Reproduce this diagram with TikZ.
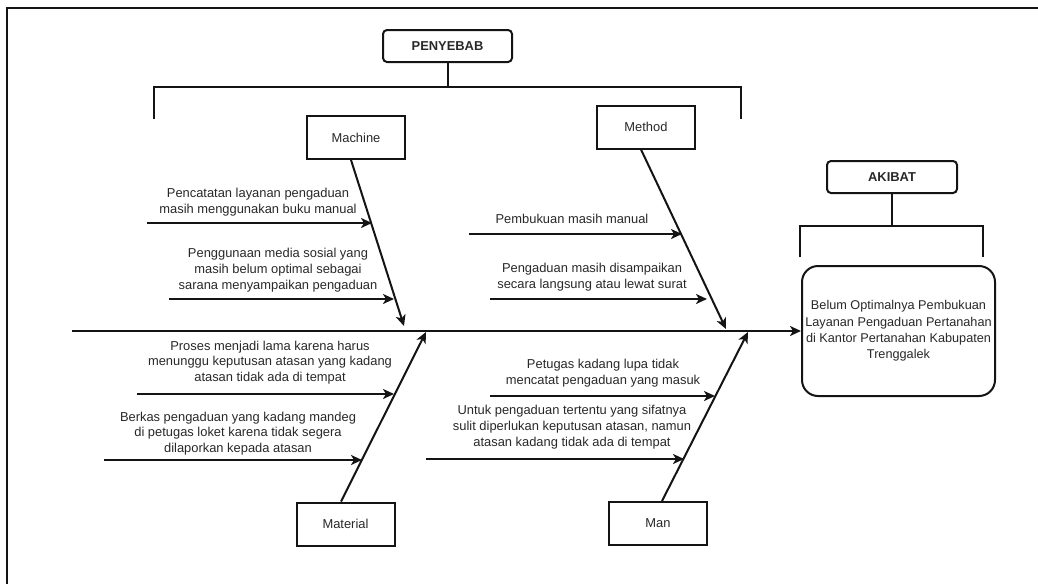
\documentclass[tikz,border=0pt]{standalone}
\usepackage{fontspec}
\setmainfont{Liberation Sans}
\usetikzlibrary{arrows.meta}
\definecolor{ink}{RGB}{20,20,20}
\definecolor{txt}{RGB}{40,40,40}
\begin{document}
\begin{tikzpicture}[x=1pt,y=-1pt,
  bar/.style={draw=ink, line width=2pt},
  bone/.style={draw=ink, line width=2pt, -{Stealth[length=11pt,width=10pt,inset=3pt]}},
  catbox/.style={draw=ink, line width=2pt, minimum width=98pt, minimum height=43pt, inner sep=0pt, font=\fontsize{12.9}{15}\selectfont, text=txt},
  headbox/.style={draw=ink, line width=2pt, rounded corners=4pt, minimum width=129pt, minimum height=32pt, inner sep=0pt, font=\bfseries\fontsize{12.9}{15}\selectfont, text=txt},
  lbl/.style={align=center, inner sep=0pt, font=\fontsize{12.9}{15.8}\selectfont, text=txt}]
\useasboundingbox (0,0) rectangle (1038,584);
% frame
\coordinate (fbl) at (7,584);
\coordinate (ftl) at (7,8);
\coordinate (ftr) at (1038,8);
\draw[bar] (fbl) -- (ftl) -- (ftr);

% headers
\node[headbox] (pen) at (447.5,46) {PENYEBAB};
\node[headbox, minimum width=130pt] (aki) at (892,177) {AKIBAT};
\coordinate (pbl) at (154,87);
\coordinate (pbr) at (741,87);
\coordinate (pl) at (154,119);
\coordinate (pr) at (741,119);
\draw[bar] (pl) -- (pbl) -- (pbr) -- (pr);
\draw[bar] (pen.south) -- (pen.south |- pbl);
\coordinate (abl) at (800,226);
\coordinate (abr) at (983,226);
\coordinate (al) at (800,257);
\coordinate (ar) at (983,257);
\draw[bar] (al) -- (abl) -- (abr) -- (ar);
\draw[bar] (aki.south) -- (aki.south |- abl);

% effect
\node[draw=ink, line width=2pt, rounded corners=16pt, minimum width=193pt, minimum height=130pt,
      align=center, inner sep=0pt, font=\fontsize{12.7}{16.3}\selectfont, text=txt] (eff) at (898.5,331)
  {Belum Optimalnya Pembukuan\\Layanan Pengaduan Pertanahan\\di Kantor Pertanahan Kabupaten\\Trenggalek};

% spine
\coordinate (tail) at (72,331);
\draw[bone] (tail) -- (eff.west);

% category boxes
\node[catbox] (mach) at (356,137.5) {Machine};
\node[catbox] (meth) at (646,127) {Method};
\node[catbox] (mat) at (345.5,524) {Material};
\node[catbox] (man) at (658,523.5) {Man};

\coordinate (machtip) at (404,326);
\coordinate (methtip) at (726,329);
\coordinate (mattip) at (426,332);
\coordinate (mantip) at (748,332);
\draw[bone] ([xshift=-5pt]mach.south) -- (machtip);
\draw[bone] ([xshift=-5pt]meth.south) -- (methtip);
\draw[bone] ([xshift=-4.5pt]mat.north) -- (mattip);
\draw[bone] ([xshift=4pt]man.north) -- (mantip);

% Machine causes
\node[lbl] (t1) at (258,202) {Pencatatan layanan pengaduan\\masih menggunakan buku manual};
\coordinate (a1s) at (147,223); \coordinate (a1e) at (372,223);
\draw[bone] (a1s) -- (a1e);
\node[lbl] (t2) at (278,270) {Penggunaan media sosial yang\\masih belum optimal sebagai\\sarana menyampaikan pengaduan};
\coordinate (a2s) at (169,299); \coordinate (a2e) at (394,299);
\draw[bone] (a2s) -- (a2e);

% Material causes
\node[lbl] (t3) at (270,362.5) {Proses menjadi lama karena harus\\menunggu keputusan atasan yang kadang\\atasan tidak ada di tempat};
\coordinate (a3s) at (137,394); \coordinate (a3e) at (394,394);
\draw[bone] (a3s) -- (a3e);
\node[lbl] (t4) at (238,433.5) {Berkas pengaduan yang kadang mandeg\\di petugas loket karena tidak segera\\dilaporkan kepada atasan};
\coordinate (a4s) at (104,460); \coordinate (a4e) at (362,460);
\draw[bone] (a4s) -- (a4e);

% Method causes
\node[lbl] (t5) at (572,219) {Pembukuan masih manual};
\coordinate (a5s) at (469,234); \coordinate (a5e) at (682,234);
\draw[bone] (a5s) -- (a5e);
\node[lbl] (t6) at (592,277) {Pengaduan masih disampaikan\\secara langsung atau lewat surat};
\coordinate (a6s) at (490,299); \coordinate (a6e) at (707,299);
\draw[bone] (a6s) -- (a6e);

% Man causes
\node[lbl] (t7) at (603,373.5) {Petugas kadang lupa tidak\\mencatat pengaduan yang masuk};
\coordinate (a7s) at (490,396); \coordinate (a7e) at (715,396);
\draw[bone] (a7s) -- (a7e);
\node[lbl] (t8) at (572,427) {Untuk pengaduan tertentu yang sifatnya\\sulit diperlukan keputusan atasan, namun\\atasan kadang tidak ada di tempat};
\coordinate (a8s) at (426,459); \coordinate (a8e) at (684,459);
\draw[bone] (a8s) -- (a8e);
\end{tikzpicture}
\end{document}
